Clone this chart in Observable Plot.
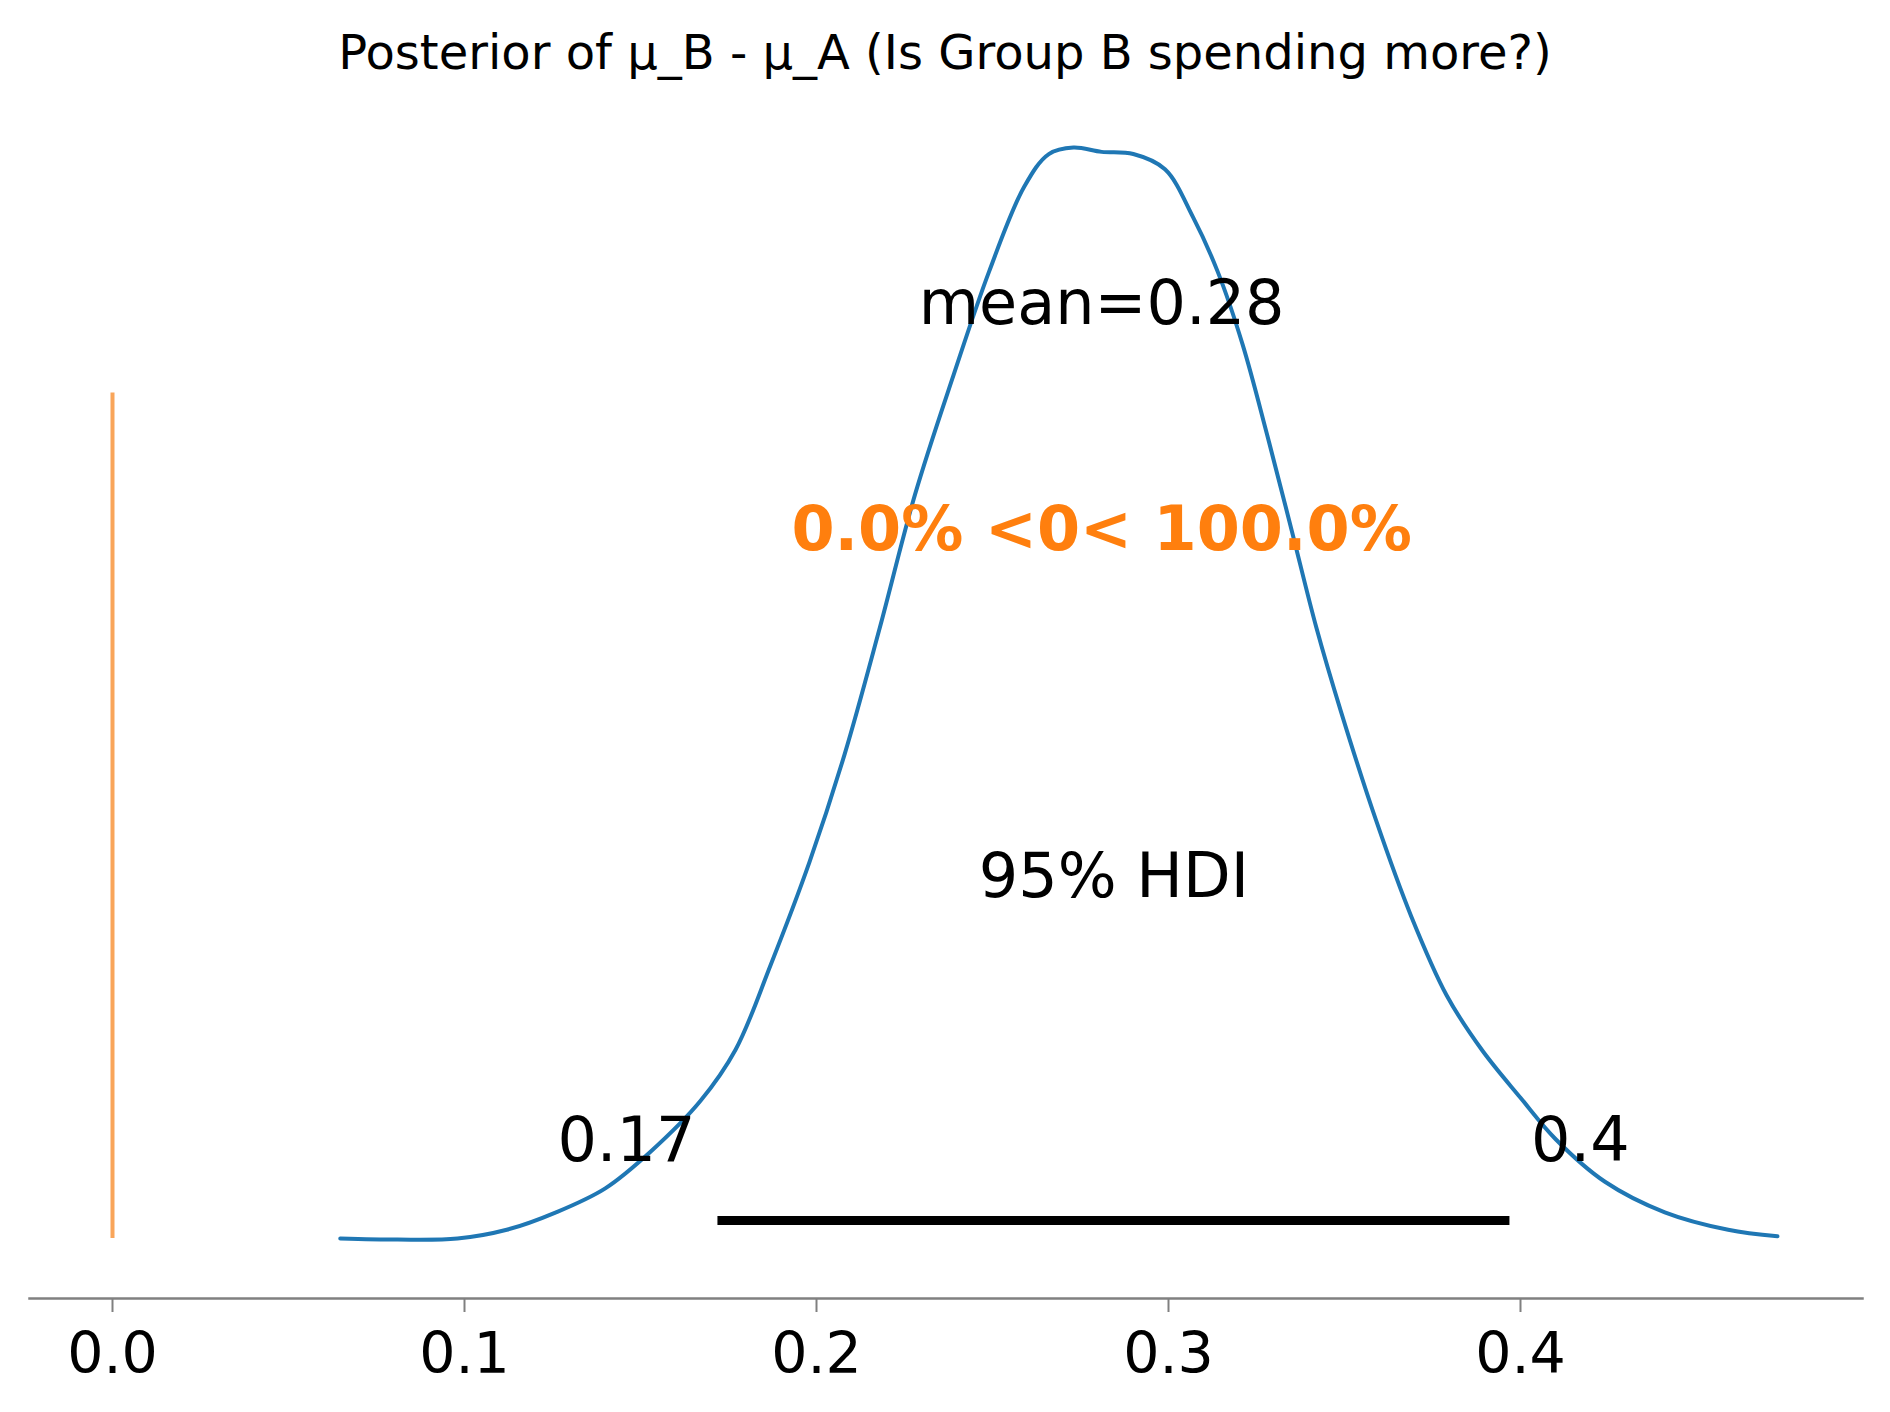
<!DOCTYPE html>
<html><head><meta charset="utf-8">
<script src="https://cdn.jsdelivr.net/npm/d3@7"></script>
<script src="https://cdn.jsdelivr.net/npm/@observablehq/plot@0.6"></script>
<style>body{margin:0;background:#fff;font-family:"DejaVu Sans",sans-serif}
#t{height:90px;text-align:center;font-size:48px;line-height:104px;width:1890px;white-space:nowrap}</style>
</head><body>
<div id="t">Posterior of μ_B - μ_A (Is Group B spending more?)</div>
<div id="c"></div>
<script>
const xs=[0.0647,0.081,0.098,0.112,0.126,0.140,0.153,0.167,0.177,0.187,0.198,0.208,0.218,0.228,0.239,0.249,0.259,0.266,0.273,0.281,0.290,0.299,0.307,0.314,0.321,0.328,0.335,0.342,0.349,0.359,0.369,0.379,0.389,0.400,0.410,0.424,0.441,0.459,0.473];
const dens=[0,-0.001,0,0.008,0.024,0.046,0.080,0.126,0.173,0.251,0.345,0.444,0.560,0.682,0.792,0.886,0.964,0.994,1.0,0.996,0.994,0.980,0.936,0.886,0.820,0.737,0.649,0.560,0.483,0.383,0.295,0.223,0.173,0.129,0.091,0.052,0.024,0.008,0.002];
const hdi=[0.172,0.397];
const hdiLabelX=[0.146,0.417];
const hdiLabels=["0.17","0.4"];
const meanLabel="mean=0.28";
const refLabel="0.0% <0< 100.0%";
const ticks=[0,0.1,0.2,0.3,0.4];
const curve=xs.map((x,i)=>({x,y:dens[i]}));
const chart=Plot.plot({
  width:1890,height:1322,marginLeft:29,marginRight:28,marginTop:20,marginBottom:114,
  x:{domain:[-0.02358,0.49716],range:[29,1862]},
  y:{domain:[0,1],range:[1148,57],axis:null},
  style:{fontFamily:"DejaVu Sans",background:"#fff"},
  marks:[
    Plot.frame({anchor:"bottom",stroke:"#808080",strokeWidth:2.5}),
    Plot.axisX({ticks,tickFormat:d3.format(".1f"),tickSize:14,tickPadding:20,fontSize:57,stroke:"#808080",strokeWidth:2,color:"#000",label:null}),
    Plot.ruleX([0],{y1:0,y2:0.775,stroke:"#f9a55a",strokeWidth:4}),
    Plot.line(curve,{x:"x",y:"y",stroke:"#1f77b4",strokeWidth:4,curve:"catmull-rom"}),
    Plot.ruleY([0.0165],{x1:hdi[0],x2:hdi[1],stroke:"#000",strokeWidth:9}),
    Plot.text([0],{x:()=>0.281,y:()=>0.856,text:()=>meanLabel,fontSize:62,fill:"#000"}),
    Plot.text([0],{x:()=>0.281,y:()=>0.649,text:()=>refLabel,fontSize:62,fontWeight:"bold",fill:"#ff7f0e"}),
    Plot.text([0],{x:()=>0.2845,y:()=>0.331,text:()=>"95% HDI",fontSize:62,fill:"#000"}),
    Plot.text(hdiLabelX,{x:d=>d,y:()=>0.089,text:(d,i)=>hdiLabels[i],fontSize:62,fill:"#000"})
  ]
});
document.getElementById("c").appendChild(chart);
</script></body></html>
